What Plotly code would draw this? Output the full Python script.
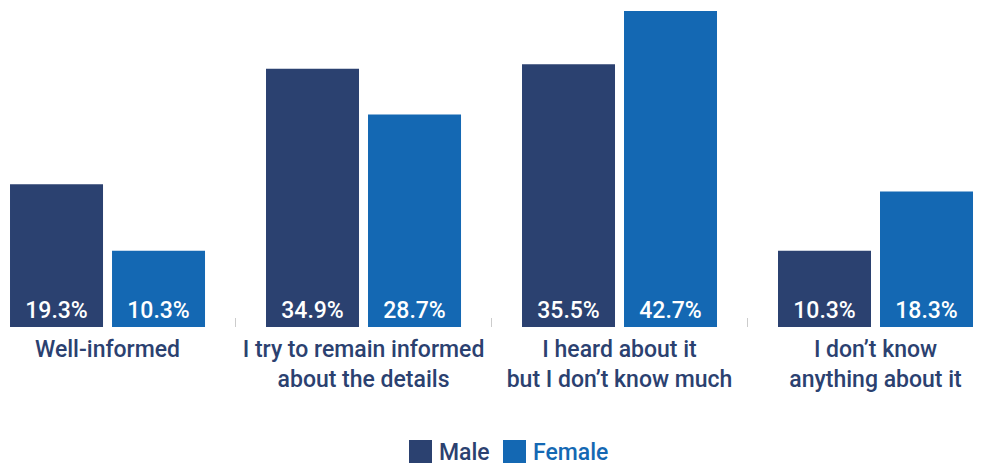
import plotly.graph_objects as go

categories = ["Well-informed", "I try to remain informed<br>about the details",
              "I heard about it<br>but I don\u2019t know much", "I don\u2019t know<br>anything about it"]
male = [19.3, 34.9, 35.5, 10.3]
female = [10.3, 28.7, 42.7, 18.3]
series_names = ["Male", "Female"]
colors = ["#2b4170", "#1468b3"]

FONT = "Roboto, Liberation Sans, Arial, sans-serif"
xs = list(range(len(categories)))

fig = go.Figure()
for name, vals, col in zip(series_names, [male, female], colors):
    fig.add_trace(go.Bar(
        x=xs, y=vals, name=name, marker=dict(color=col, line=dict(width=0)),
        text=[f"{v:.1f}%" for v in vals], textposition="inside",
        insidetextanchor="start", textangle=0,
        textfont=dict(family=FONT, size=23, color="white", weight=500),
        showlegend=False, hoverinfo="skip"))

fig.update_layout(
    width=996, height=467, barmode="group", bargap=0.2031, bargroupgap=0.0882,
    margin=dict(l=0, r=0, t=0, b=140), plot_bgcolor="white", paper_bgcolor="white",
    xaxis=dict(range=[-0.42, 3.4707], tickmode="array", tickvals=xs, ticktext=categories,
               ticks="", showgrid=False, zeroline=False, showline=False, tickangle=0,
               tickfont=dict(family=FONT, size=23, color="#2b4170", weight=500),
               ticklabelstandoff=6,
               minor=dict(tickmode="array", tickvals=[0.5, 1.5, 2.5], ticks="inside",
                          ticklen=9, tickwidth=1, tickcolor="#cccccc", showgrid=False)),
    yaxis=dict(range=[0, 44.19], visible=False, fixedrange=True),
)

# manual legend (big square swatches)
H = 327.0
def py(p):
    return (H - p) / H
legend_items = [("Male", colors[0], 409), ("Female", colors[1], 503)]
for name, col, x0 in legend_items:
    fig.add_shape(type="rect", xref="paper", yref="paper",
                  x0=x0 / 996, x1=(x0 + 23) / 996, y0=py(463), y1=py(440),
                  fillcolor=col, line=dict(width=0))
    fig.add_annotation(xref="paper", yref="paper", x=(x0 + 28) / 996, y=py(452),
                       xanchor="left", yanchor="middle", showarrow=False, text=name,
                       font=dict(family=FONT, size=23, color=col, weight=500))

fig.write_html("out.html")
